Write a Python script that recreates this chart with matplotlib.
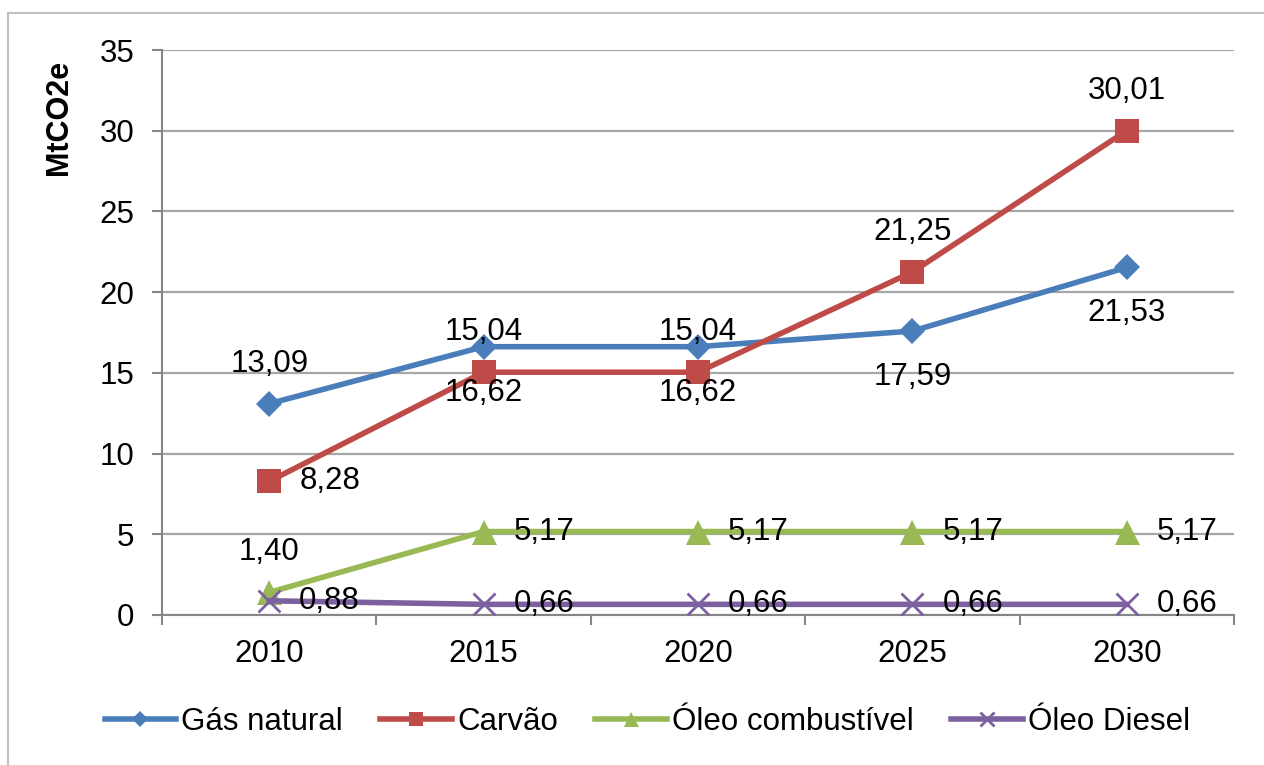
import matplotlib
matplotlib.use("Agg")
import matplotlib.pyplot as plt
from matplotlib.lines import Line2D

plt.rcParams["font.family"] = ["Liberation Sans", "DejaVu Sans"]

# ── dados ──────────────────────────────────────────────
anos = ["2010", "2015", "2020", "2025", "2030"]
gas_natural = [13.09, 16.62, 16.62, 17.59, 21.53]
carvao = [8.28, 15.04, 15.04, 21.25, 30.01]
oleo_combustivel = [1.40, 5.17, 5.17, 5.17, 5.17]
oleo_diesel = [0.88, 0.66, 0.66, 0.66, 0.66]

# posição do rótulo de cada ponto (estilo)
pos_gas = ["above", "below", "below", "below", "below"]
pos_carvao = ["right", "above", "above", "above", "above"]
pos_combustivel = ["above", "right", "right", "right", "right"]
pos_diesel = ["right", "right", "right", "right", "right"]

FS = 22.5
GRID = "#a6a6a6"
AXIS = "#868686"

fig = plt.figure(figsize=(12.64, 7.65), dpi=100)
ax = fig.add_axes([162 / 1264, 1 - 615 / 765, 1072 / 1264, 565 / 765])

x = list(range(len(anos)))
series = [
    ("Gás natural", gas_natural, "#4A7EBB", "D", 13, pos_gas),
    ("Carvão", carvao, "#BE4B48", "s", 17, pos_carvao),
    ("Óleo combustível", oleo_combustivel, "#98B954", "^", 18, pos_combustivel),
    ("Óleo Diesel", oleo_diesel, "#7D60A0", "x", 16, pos_diesel),
]

for nome, vals, cor, mk, ms, posicoes in series:
    ax.plot(x, vals, color=cor, linewidth=4.0, marker=mk, markersize=ms,
            markeredgewidth=2 if mk == "x" else 0, markeredgecolor=cor,
            label=nome, zorder=3)
    for xi, v, p in zip(x, vals, posicoes):
        txt = f"{v:.2f}".replace(".", ",")
        if p == "above":
            off, ha, va = (0, 40), "center", "center"
        elif p == "below":
            off, ha, va = (0, -46), "center", "center"
        else:
            off, ha, va = (30, 0), "left", "center"
        ax.annotate(txt, (xi, v), xytext=off, textcoords="offset pixels",
                    ha=ha, va=va, fontsize=FS, color="black", zorder=4)

# eixos
ax.set_xlim(-0.5, len(anos) - 0.5)
ax.set_ylim(0, 35)
ax.set_yticks(range(0, 36, 5))
ax.set_xticks(x)
ax.set_xticklabels(anos)
ax.set_xticks([i + 0.5 for i in range(-1, len(anos))], minor=True)
ax.tick_params(axis="x", which="major", length=0, pad=17, labelsize=FS)
ax.tick_params(axis="x", which="minor", length=7, width=1.5, color=AXIS)
ax.tick_params(axis="y", length=7, width=1.5, color=AXIS, pad=13, labelsize=FS)

ax.grid(axis="y", color=GRID, linewidth=1.6, zorder=0)
ax.set_axisbelow(True)
for lado in ["top", "right"]:
    ax.spines[lado].set_visible(False)
for lado in ["left", "bottom"]:
    ax.spines[lado].set_color(AXIS)
    ax.spines[lado].set_linewidth(1.5)

ax.set_ylabel("MtCO2e", fontsize=22, fontweight="bold")
ax.yaxis.set_label_coords(-0.082, 0.88)

# legenda
fig.legend(loc="center", bbox_to_anchor=(0.512, 1 - 722 / 765), ncol=4,
           frameon=False, fontsize=FS, handlelength=2.3, handletextpad=0.15,
           columnspacing=1.2, markerscale=0.6)

# moldura do gráfico
fig.add_artist(Line2D([8 / 1264, 1], [1 - 13 / 765, 1 - 13 / 765],
                      transform=fig.transFigure, color="#c0c0c0", linewidth=1.5))
fig.add_artist(Line2D([8 / 1264, 8 / 1264], [0, 1 - 13 / 765],
                      transform=fig.transFigure, color="#c0c0c0", linewidth=1.5))

fig.savefig("out.png", dpi=100, facecolor="white")
